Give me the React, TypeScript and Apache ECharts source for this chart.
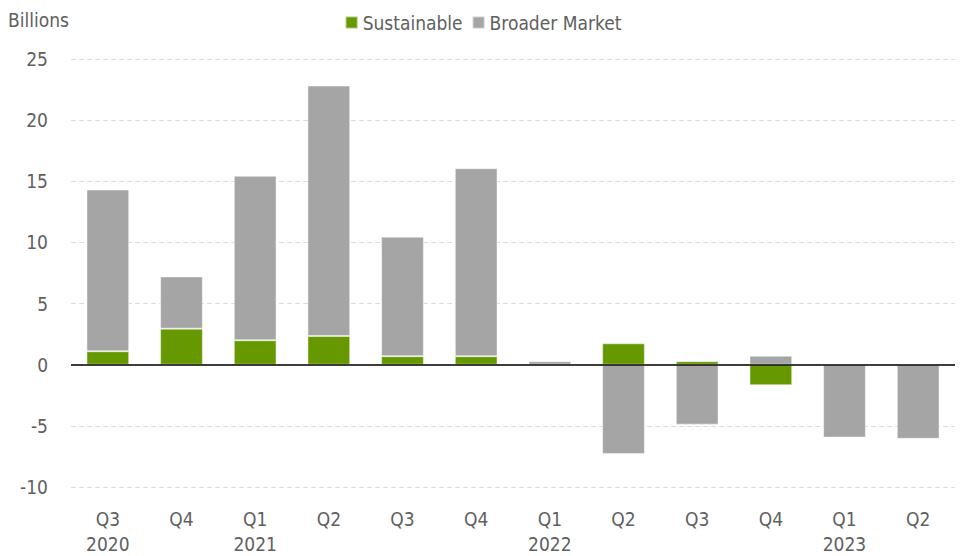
import React, { useEffect, useRef } from "react";
import * as echarts from "echarts";

const quarters = ["Q3", "Q4", "Q1", "Q2", "Q3", "Q4", "Q1", "Q2", "Q3", "Q4", "Q1", "Q2"];
const years = ["2020", "", "2021", "", "", "", "2022", "", "", "", "2023", ""];
const sustainable = [1.1, 2.95, 2.0, 2.35, 0.7, 0.7, 0, 1.75, 0.29, -1.68, 0, 0];
const broaderMarket = [13.23, 4.27, 13.45, 20.48, 9.77, 15.37, 0.29, -7.3, -4.9, 0.73, -5.96, -6.06];
const yTicks = { min: -10, max: 25, interval: 5 };

const FONT = "'Liberation Sans Narrow', 'DejaVu Sans Condensed', 'Roboto', sans-serif";
const TEXT = "#606060";
const FS = 19;

export default function App() {
  const ref = useRef<HTMLDivElement>(null);
  useEffect(() => {
    document.body.style.margin = "0";
    const chart = echarts.init(ref.current!, undefined, { renderer: "svg" });
    const categories = quarters.map((q, i) => (years[i] ? q + "\n" + years[i] : q));
    chart.setOption({
      animation: false,
      textStyle: { fontFamily: FONT },
      title: {
        text: "Billions",
        left: 3,
        top: 5,
        textStyle: { fontFamily: FONT, fontSize: FS, fontWeight: "normal", color: TEXT },
      },
      legend: {
        top: 8,
        left: "center",
        icon: "rect",
        itemWidth: 12,
        itemHeight: 12,
        itemGap: 9,
        textStyle: { fontFamily: FONT, fontSize: FS, color: TEXT },
        data: ["Sustainable", "Broader Market"],
      },
      grid: { left: 71, right: 11, top: 59, bottom: 66, containLabel: false },
      xAxis: {
        type: "category",
        data: categories,
        axisLine: { show: false, onZero: false },
        axisTick: { show: false },
        axisLabel: {
          fontFamily: FONT,
          fontSize: FS,
          color: TEXT,
          margin: 19,
          lineHeight: 25,
          interval: 0,
        },
      },
      yAxis: {
        type: "value",
        min: yTicks.min,
        max: yTicks.max,
        interval: yTicks.interval,
        axisLine: { show: false },
        axisTick: { show: false },
        axisLabel: { fontFamily: FONT, fontSize: FS, color: TEXT, margin: 23 },
        splitLine: { lineStyle: { color: "#dcdcdc", type: [5, 3], width: 1 } },
      },
      series: [
        {
          name: "Sustainable",
          type: "bar",
          stack: "total",
          data: sustainable,
          barWidth: "58%",
          itemStyle: { color: "#669900", borderColor: "rgba(255,255,255,0.45)", borderWidth: 1 },
        },
        {
          name: "Broader Market",
          type: "bar",
          stack: "total",
          data: broaderMarket,
          barWidth: "58%",
          itemStyle: { color: "#a5a5a5", borderColor: "rgba(255,255,255,0.45)", borderWidth: 1 },
          markLine: {
            silent: true,
            symbol: "none",
            label: { show: false },
            lineStyle: { color: "#000000", width: 1.5, type: "solid" },
            data: [{ yAxis: 0 }],
          },
        },
      ],
    });
    return () => chart.dispose();
  }, []);
  return <div ref={ref} style={{ width: 966, height: 556 }} />;
}
